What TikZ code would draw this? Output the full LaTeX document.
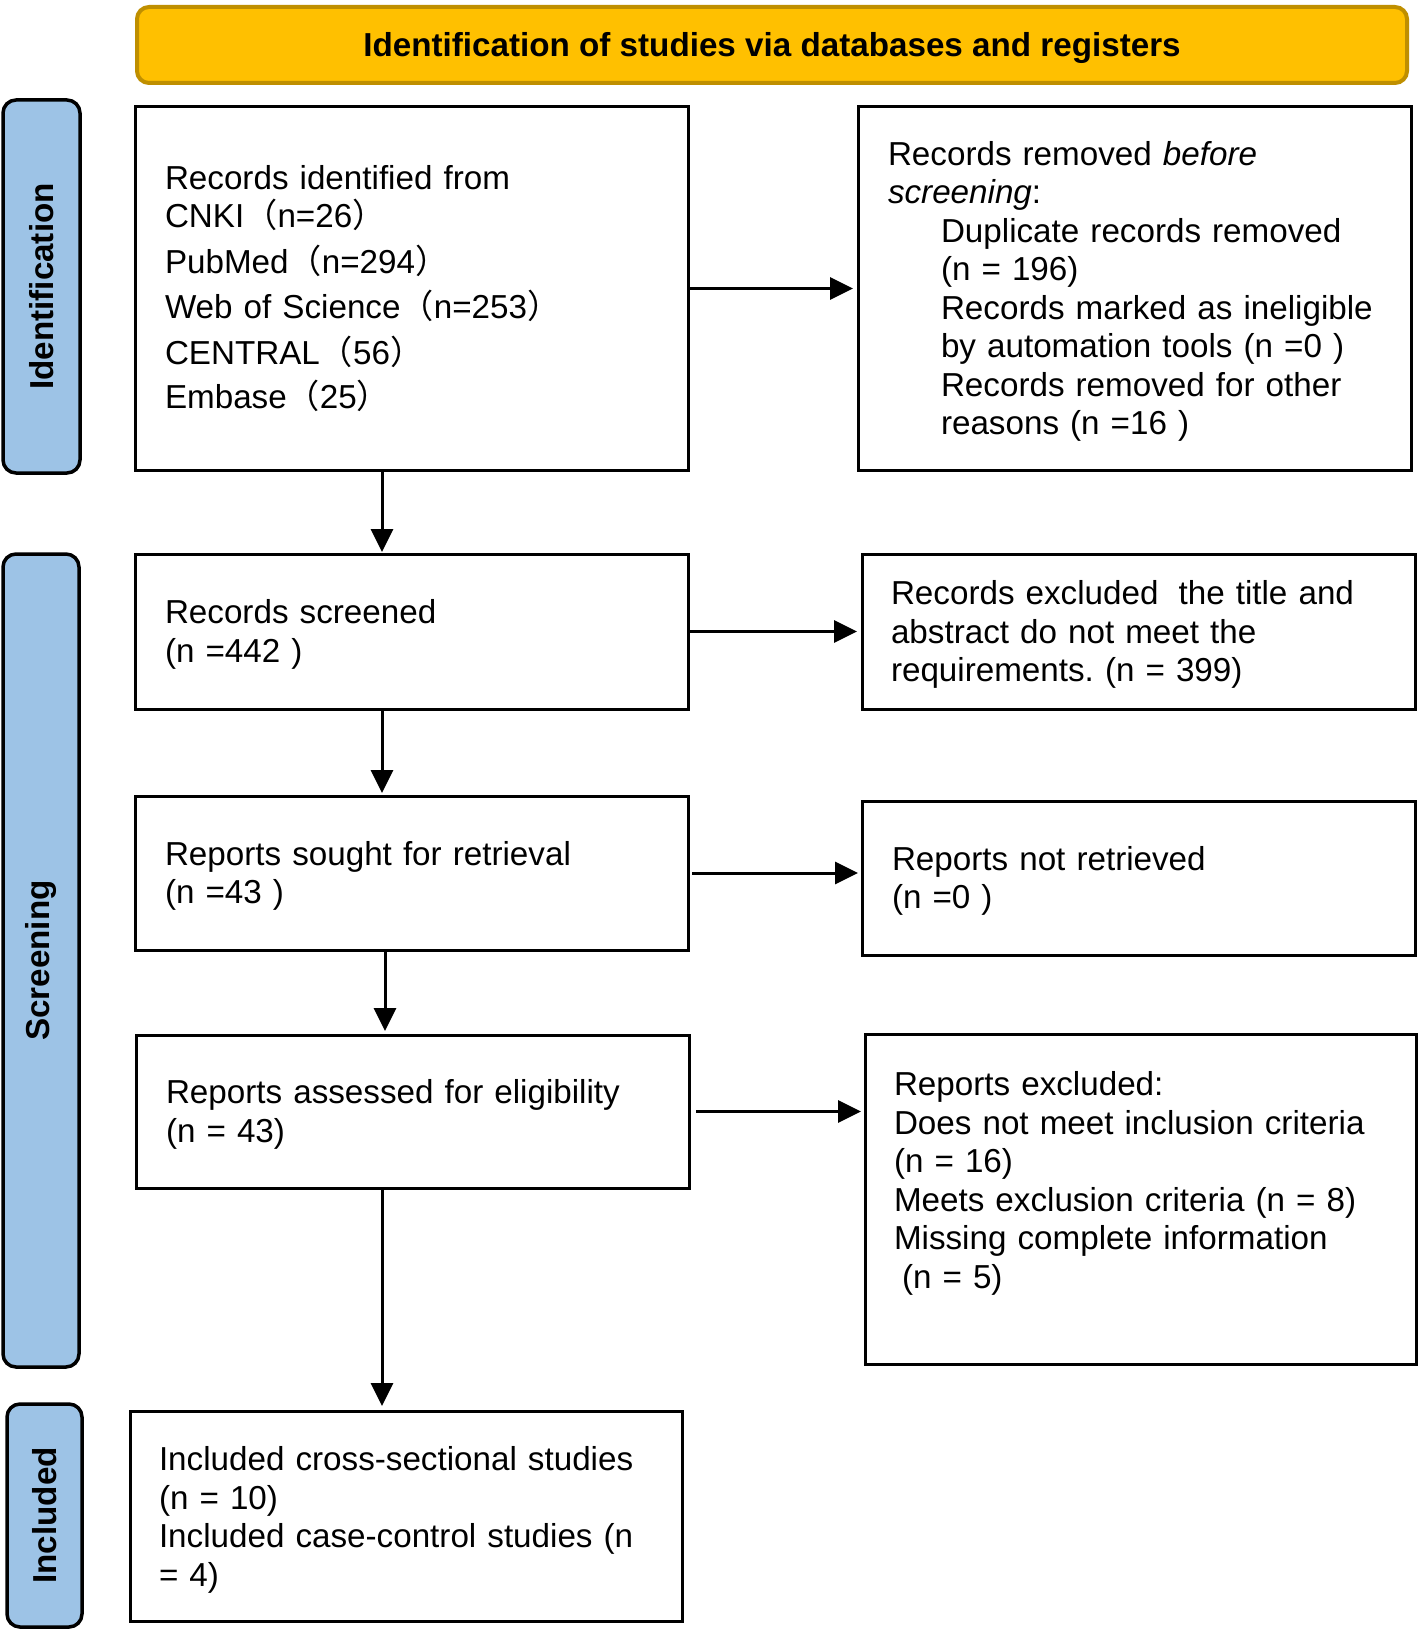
\documentclass[tikz,border=0pt]{standalone}
\usepackage{fontspec}
\setmainfont{Liberation Sans}
\newfontfamily\cjk{Noto Sans CJK SC}
\usetikzlibrary{arrows.meta,calc}
\definecolor{hdrfill}{HTML}{FFC000}
\definecolor{hdrdraw}{HTML}{BF8F00}
\definecolor{sidefill}{HTML}{9DC3E6}
\newcommand{\lpar}{{\cjk （}}
\newcommand{\rpar}{{\cjk ）}}
\newcommand{\topstrut}{\rule{0pt}{30pt}}
\frenchspacing
\begin{document}
\begin{tikzpicture}[x=1pt,y=-1pt,
  txt/.style={font=\fontsize{33.2}{38.5}\selectfont},
  box/.style={txt, draw, line width=3pt, rectangle, outer sep=0pt,
    inner xsep=30pt, inner ysep=0pt, align=left, anchor=north west},
  side/.style={draw, line width=3.5pt, fill=sidefill, rounded corners=13pt,
    rotate=90, outer sep=0pt, inner sep=0pt,
    font=\bfseries\fontsize{33.2}{38.5}\selectfont},
  header/.style={draw=hdrdraw, line width=4pt, fill=hdrfill, rounded corners=12pt,
    outer sep=0pt, inner sep=0pt, text height=23.8pt, text depth=0pt,
    font=\bfseries\fontsize{33.2}{38.5}\selectfont},
  arr/.style={line width=3pt, -{Triangle[length=23pt,width=22pt]}}
]
\fill[white] (0,0) rectangle (1421,1629);
\useasboundingbox (0,0) rectangle (1421,1629);

% header
\node[header, minimum width=1270pt, minimum height=76pt] (hdr) at (772,45)
  {Identification of studies via databases and registers};

% side labels
\node[side, minimum width=373pt, minimum height=77pt] (sid) at (41.5,286.5) {Identification};
\node[side, minimum width=813pt, minimum height=76pt] (sscr) at (41,960.5) {Screening};
\node[side, minimum width=223pt, minimum height=75pt] (sinc) at (44.5,1515.5) {Included};

% boxes
\node[box, minimum width=553pt, minimum height=363pt, text width=493pt] (b1) at (135,107)
  {Records identified from\\
   CNKI\lpar n=26\rpar\\[7pt]
   PubMed\lpar n=294\rpar\\[7pt]
   Web of Science\lpar n=253\rpar\\[7pt]
   CENTRAL\lpar 56\rpar\\[6pt]
   Embase\lpar 25\rpar};

\node[box, minimum width=553pt, minimum height=363pt, text width=493pt] (b2) at (858,107)
  {\topstrut Records removed \textit{before}\\
   \textit{screening}:\\
   \hspace*{53pt}Duplicate records removed\\
   \hspace*{53pt}(n = 196)\\
   \hspace*{53pt}Records marked as ineligible\\
   \hspace*{53pt}by automation tools (n =0 )\\
   \hspace*{53pt}Records removed for other\\
   \hspace*{53pt}reasons (n =16 )};

\node[box, minimum width=553pt, minimum height=155pt, text width=493pt] (b3) at (135,554)
  {\topstrut Records screened\\(n =442 )};

\node[box, minimum width=553pt, minimum height=155pt, text width=495pt, inner xsep=29pt] (b4) at (862,554)
  {\topstrut Records excluded \hspace{9pt}the title and\\abstract do not meet the\\requirements. (n = 399)};

\node[box, minimum width=553pt, minimum height=154pt, text width=493pt] (b5) at (135,796)
  {\topstrut Reports sought for retrieval\\(n =43 )};

\node[box, minimum width=553pt, minimum height=154pt, text width=493pt] (b6) at (862,801)
  {\topstrut Reports not retrieved\\(n =0 )};

\node[box, minimum width=553pt, minimum height=153pt, text width=493pt] (b7) at (136,1035)
  {\topstrut Reports assessed for eligibility\\(n = 43)};

\node[box, minimum width=551pt, minimum height=330pt, text width=493pt, inner xsep=29pt] (b8) at (865,1034)
  {Reports excluded:\\
   Does not meet inclusion criteria\\
   (n = 16)\\
   Meets exclusion criteria (n = 8)\\
   Missing complete information\\
   \hspace*{8pt}(n = 5)\\
   \mbox{}};

\node[box, minimum width=552pt, minimum height=210pt, text width=494pt, inner xsep=29pt] (b9) at (130,1411)
  {\rule{0pt}{32pt}Included cross-sectional studies\\
   (n = 10)\\
   Included case-control studies (n\\
   = 4)};

% spine coordinates
\coordinate (vx1) at (382,0);
\coordinate (vx2) at (385,0);

% horizontal arrows
\draw[arr, shorten >=5pt] (b1.east) -- (b1.east -| b2.west);
\draw[arr, shorten >=5pt] (b3.east) -- (b3.east -| b4.west);
\draw[arr, shorten <=4pt, shorten >=4pt] (b5.east) -- (b5.east -| b6.west);
\draw[arr, shorten <=7pt, shorten >=4pt] (b7.east) -- (b7.east -| b8.west);

% vertical arrows
\draw[arr, shorten >=2pt] (b1.south -| vx1) -- (b3.north -| vx1);
\draw[arr, shorten >=3pt] (b3.south -| vx1) -- (b5.north -| vx1);
\draw[arr, shorten >=4pt] (b5.south -| vx2) -- (b7.north -| vx2);
\draw[arr, shorten >=5pt] (b7.south -| vx1) -- (b9.north -| vx1);
\end{tikzpicture}
\end{document}
